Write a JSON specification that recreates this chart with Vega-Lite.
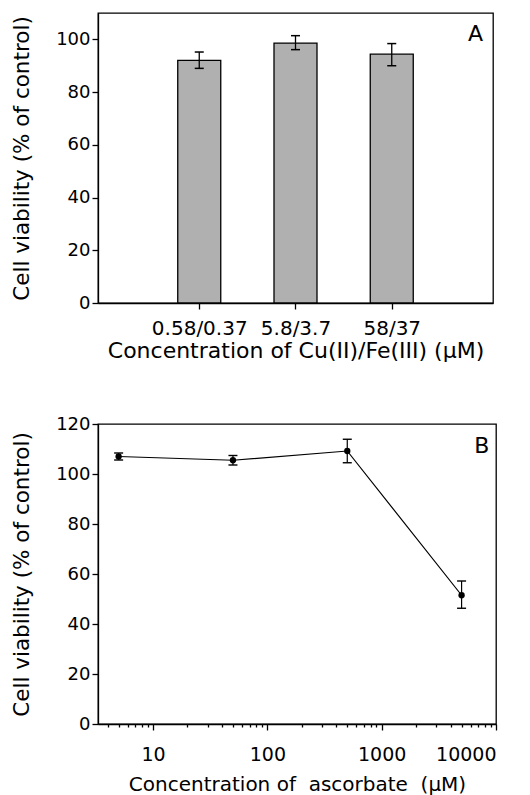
{
  "$schema": "https://vega.github.io/schema/vega-lite/v6.json",
  "padding": {"left": 10, "top": 12, "right": 5, "bottom": 0},
  "background": "white",
  "config": {
    "font": "DejaVu Sans",
    "view": {"stroke": "black", "strokeWidth": 1.3},
    "axis": {
      "grid": false,
      "domainColor": "black",
      "domainWidth": 1.3,
      "tickColor": "black",
      "tickWidth": 1.3,
      "tickSize": 6,
      "labelColor": "black",
      "labelFont": "DejaVu Sans",
      "labelFontSize": 18,
      "titleColor": "black",
      "titleFont": "DejaVu Sans",
      "titleFontSize": 20,
      "titleFontWeight": "normal"
    }
  },
  "spacing": 52,
  "vconcat": [
    {
      "width": 395,
      "height": 290,
      "data": {"values": [
        {"pos": 1, "group": "0.58/0.37", "viability": 92, "lo": 89, "hi": 95.2},
        {"pos": 2, "group": "5.8/3.7", "viability": 98.6, "lo": 96.1, "hi": 101.4},
        {"pos": 3, "group": "58/37", "viability": 94.4, "lo": 90, "hi": 98.4}
      ]},
      "encoding": {
        "x": {"field": "pos", "type": "quantitative",
          "scale": {"domain": [0, 4], "nice": false, "zero": false},
          "axis": {"values": [1, 2, 3], "labelFontSize": 20, "labelPadding": 9,
            "labelExpr": "datum.value == 1 ? '0.58/0.37' : datum.value == 2 ? '5.8/3.7' : '58/37'",
            "title": "Concentration of Cu(II)/Fe(III) (μM)", "titleFontSize": 22, "titlePadding": 2}},
        "y": {"type": "quantitative",
          "scale": {"domain": [0, 110], "nice": false},
          "axis": {"values": [0, 20, 40, 60, 80, 100], "title": "Cell viability (% of control)", "titleFontSize": 21.5, "titlePadding": 22, "labelPadding": 2}}
      },
      "layer": [
        {
          "mark": {"type": "bar", "orient": "vertical", "size": 43, "fill": "#b0b0b0", "stroke": "black", "strokeWidth": 1.3},
          "encoding": {"y": {"field": "viability", "type": "quantitative"}}
        },
        {
          "mark": {"type": "rule", "color": "black", "strokeWidth": 1.3},
          "encoding": {"y": {"field": "lo", "type": "quantitative"}, "y2": {"field": "hi"}}
        },
        {
          "mark": {"type": "tick", "orient": "horizontal", "size": 9, "thickness": 1.5, "color": "black", "opacity": 1},
          "encoding": {"y": {"field": "lo", "type": "quantitative"}}
        },
        {
          "mark": {"type": "tick", "orient": "horizontal", "size": 9, "thickness": 1.5, "color": "black", "opacity": 1},
          "encoding": {"y": {"field": "hi", "type": "quantitative"}}
        },
        {
          "data": {"values": [{"px": 3.87, "py": 102, "label": "A"}]},
          "mark": {"type": "text", "fontSize": 22, "font": "DejaVu Sans", "color": "black", "baseline": "middle", "align": "center"},
          "encoding": {
            "x": {"field": "px", "type": "quantitative"},
            "y": {"field": "py", "type": "quantitative"},
            "text": {"field": "label"}
          }
        }
      ]
    },
    {
      "width": 398,
      "height": 300,
      "data": {"values": [
        {"conc": 5, "viability": 107, "lo": 105.6, "hi": 108.4},
        {"conc": 50, "viability": 105.5, "lo": 103.6, "hi": 107.4},
        {"conc": 500, "viability": 109.2, "lo": 104.5, "hi": 113.9},
        {"conc": 5000, "viability": 51.5, "lo": 46.3, "hi": 57.2}
      ]},
      "resolve": {"axis": {"x": "independent"}},
      "layer": [
        {
          "mark": {"type": "line", "color": "black", "strokeWidth": 1.2},
          "encoding": {
            "x": {"field": "conc", "type": "quantitative",
              "scale": {"type": "log", "domain": [3.3, 10000], "nice": false},
              "axis": {"orient": "bottom", "values": [10, 100, 1000, 10000], "format": "d", "labelFontSize": 19, "labelPadding": 15,
                "title": "Concentration of\u00a0 ascorbate\u00a0 (μM)", "titlePadding": 10}},
            "y": {"field": "viability", "type": "quantitative",
              "scale": {"domain": [0, 120], "nice": false},
              "axis": {"values": [0, 20, 40, 60, 80, 100, 120], "title": "Cell viability (% of control)", "titleFontSize": 21.5, "titlePadding": 22, "labelPadding": 2}}
          }
        },
        {
          "mark": {"type": "point", "filled": true, "color": "black", "size": 40, "opacity": 1},
          "encoding": {
            "x": {"field": "conc", "type": "quantitative",
              "axis": {"orient": "bottom", "values": [4, 5, 6, 7, 8, 9, 20, 30, 40, 50, 60, 70, 80, 90, 200, 300, 400, 500, 600, 700, 800, 900, 2000, 3000, 4000, 5000, 6000, 7000, 8000, 9000],
                "labels": false, "domain": false, "tickSize": 3, "title": ""}},
            "y": {"field": "viability", "type": "quantitative"}
          }
        },
        {
          "mark": {"type": "rule", "color": "black", "strokeWidth": 1.2},
          "encoding": {
            "x": {"field": "conc", "type": "quantitative", "axis": null},
            "y": {"field": "lo", "type": "quantitative"},
            "y2": {"field": "hi"}
          }
        },
        {
          "mark": {"type": "tick", "orient": "horizontal", "size": 9, "thickness": 1.4, "color": "black", "opacity": 1},
          "encoding": {
            "x": {"field": "conc", "type": "quantitative", "axis": null},
            "y": {"field": "lo", "type": "quantitative"}
          }
        },
        {
          "mark": {"type": "tick", "orient": "horizontal", "size": 9, "thickness": 1.4, "color": "black", "opacity": 1},
          "encoding": {
            "x": {"field": "conc", "type": "quantitative", "axis": null},
            "y": {"field": "hi", "type": "quantitative"}
          }
        },
        {
          "data": {"values": [{"px": 7500, "py": 111.4, "label": "B"}]},
          "mark": {"type": "text", "fontSize": 22, "font": "DejaVu Sans", "color": "black", "baseline": "middle", "align": "center"},
          "encoding": {
            "x": {"field": "px", "type": "quantitative", "axis": null},
            "y": {"field": "py", "type": "quantitative"},
            "text": {"field": "label"}
          }
        }
      ]
    }
  ]
}
